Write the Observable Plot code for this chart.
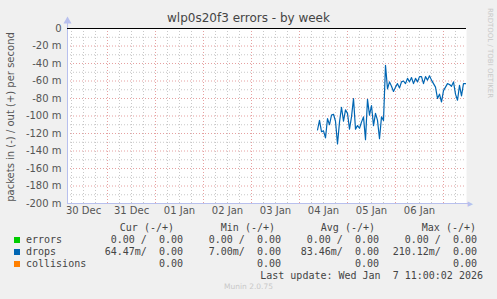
<!DOCTYPE html>
<html>
<head>
<meta charset="utf-8">
<script src="https://cdn.jsdelivr.net/npm/d3@7"></script>
<script src="https://cdn.jsdelivr.net/npm/@observablehq/plot@0.6"></script>
<style>
  html, body { margin: 0; padding: 0; background: #f0f0f0; }
  #wrap { position: relative; width: 497px; height: 299px; overflow: hidden; background: #f0f0f0; }
  #chart { position: absolute; left: 0; top: 0; }
  .abs { position: absolute; white-space: pre; }
  .title { left: 0; width: 497px; text-align: center; top: 12px; font: 12px "DejaVu Sans", sans-serif; line-height: 12px; color: #444; }
  .ylab { font: 10px "DejaVu Sans", sans-serif; color: #555; line-height: 10px; left: 11px; top: 117px; transform: translate(-50%, -50%) rotate(-90deg); }
  .rrd { font: 7px "DejaVu Sans", sans-serif; color: #c8c8c8; line-height: 7px; left: 489px; top: 53px; transform: translate(-50%, -50%) rotate(90deg); }
  .mono { font: 10px "DejaVu Sans Mono", monospace; color: #444; line-height: 12px; }
  .sq { position: absolute; width: 6px; height: 6px; }
  .munin { font: 7.5px "DejaVu Sans", sans-serif; color: #c8c8c8; left: 0; width: 497px; text-align: center; top: 283px; line-height: 8px; }
</style>
</head>
<body>
<div id="wrap">
  <div id="chart"></div>
</div>
<script>
// ---- data ----
const title = "wlp0s20f3 errors - by week";
const yLabel = "packets in (-) / out (+) per second";
const sideText = "RRDTOOL / TOBI OETIKER";
const footer = "Munin 2.0.75";
const lastUpdate = "Last update: Wed Jan  7 11:00:02 2026";

const dayLabels = ["30 Dec", "31 Dec", "01 Jan", "02 Jan", "03 Jan", "04 Jan", "05 Jan", "06 Jan"];
const yTicks = [0, -20, -40, -60, -80, -100, -120, -140, -160, -180, -200];

// drops (in), hourly samples starting 2026-01-04 09:00, in milli-packets/s (negative = in)
const dropsStart = Date.UTC(2026, 0, 4, 9);
const dropsValues = [
  -116, -105, -118, -117, -125, -103, -110, -99, -98, -106,
  -132, -107, -90, -106, -93, -97, -115, -101, -80, -115,
  -111, -114, -107, -101, -127, -81, -99, -88, -111, -97,
  -105, -126, -101, -105, -42, -69, -61, -66, -72, -67,
  -63, -68, -61, -60, -63, -57, -61, -56, -63, -57,
  -61, -55, -55, -63, -55, -59, -54, -59, -63, -67,
  -80, -75, -84, -71, -67, -63, -64, -66, -61, -75,
  -82, -65, -77, -63, -63
];

const legendNames = ["errors", "drops", "collisions"];
const legendColors = ["#00cc00", "#0066b3", "#ff8000"];
const legendHeaders = ["Cur (-/+)", "Min (-/+)", "Avg (-/+)", "Max (-/+)"];
const legendCur = ["0.00 /  0.00", "64.47m/  0.00", "0.00"];
const legendMin = ["0.00 /  0.00", "7.00m/  0.00", "0.00"];
const legendAvg = ["0.00 /  0.00", "83.46m/  0.00", "0.00"];
const legendMax = ["0.00 /  0.00", "210.12m/  0.00", "0.00"];

// ---- build ----
const HOUR = 3600 * 1000;
const drops = dropsValues.map((v, i) => ({ t: new Date(dropsStart + i * HOUR), v }));
const dayNoons = dayLabels.map((_, i) => new Date(Date.UTC(2025, 11, 30 + i, 12)));
const xStart = new Date(Date.UTC(2025, 11, 30, 4));
const xEnd = new Date(Date.UTC(2026, 0, 7, 11, 30));

const midnights = [];
const minorV = [];
for (let h = 6; ; h += 6) {
  const d = new Date(Date.UTC(2025, 11, 30, 0) + h * HOUR);
  if (d > xEnd) break;
  if (d.getUTCHours() === 0) midnights.push(d); else minorV.push(d);
}
const minorH = d3.range(-190, 0, 20);
const majorH = yTicks.filter(v => v !== 0 && v !== -200);

const minorColor = "#c8c8c8";
const majorColor = "#e6a0a0";
const axisColor = "#b8c0ee";

const chart = Plot.plot({
  width: 497,
  height: 220,
  marginLeft: 67,
  marginRight: 31,
  marginTop: 28,
  marginBottom: 17,
  style: { fontFamily: "DejaVu Sans", fontSize: "10px", color: "#555", background: "transparent", overflow: "visible" },
  x: { type: "time", domain: [xStart, xEnd] },
  y: { domain: [-200, 0] },
  marks: [
    Plot.frame({ fill: "white", stroke: "none" }),
    Plot.ruleY(minorH, { stroke: minorColor, strokeDasharray: "1,2" }),
    Plot.ruleX(minorV, { stroke: minorColor, strokeDasharray: "1,2" }),
    Plot.ruleY(majorH, { stroke: majorColor, strokeDasharray: "1,2" }),
    Plot.ruleX(midnights, { stroke: majorColor, strokeDasharray: "1,2" }),
    Plot.axisY({ ticks: yTicks, tickSize: 0, tickPadding: 6, tickFormat: d => d === 0 ? "0" : `${d} m`, label: null }),
    Plot.axisX({ ticks: dayNoons, tickSize: 0, tickPadding: 3, tickFormat: (d, i) => dayLabels[i], label: null }),
    Plot.ruleX([xStart], { y1: -200, y2: 8, stroke: axisColor }),
    Plot.ruleY([-200], { x1: xStart, x2: new Date(xEnd.getTime() + 2 * HOUR), stroke: axisColor }),
    Plot.dot([xStart], { x: d => d, y: 8.5, symbol: "triangle", r: 3, fill: axisColor, stroke: "none" }),
    Plot.text([-200], { x: new Date(xEnd.getTime() + 1.8 * HOUR), y: d => d, text: () => "▶", fill: axisColor, fontSize: 7 }),
    Plot.line(drops, { x: "t", y: "v", stroke: "#0066b3", strokeWidth: 1.2 }),
    Plot.ruleY([0], { stroke: "black", strokeWidth: 1 })
  ]
});
document.getElementById("chart").appendChild(chart);

const wrap = document.getElementById("wrap");
function add(cls, text, style) {
  const el = document.createElement("div");
  el.className = "abs " + cls;
  el.textContent = text;
  Object.assign(el.style, style || {});
  wrap.appendChild(el);
  return el;
}
add("title", title);
add("ylab", yLabel);
add("rrd", sideText);
add("munin", footer);

// legend
const headerEnds = [174, 275, 375, 476];
const valueEnds = [183, 281, 379, 477];
const rowTops = [234, 246, 258];
legendHeaders.forEach((h, i) => add("mono", h, { right: (497 - headerEnds[i]) + "px", top: "222px" }));
const cols = [legendCur, legendMin, legendAvg, legendMax];
legendNames.forEach((name, r) => {
  const sq = document.createElement("div");
  sq.className = "sq";
  Object.assign(sq.style, { left: "14px", top: (rowTops[r] + 3) + "px", background: legendColors[r] });
  wrap.appendChild(sq);
  add("mono", name, { left: "26px", top: rowTops[r] + "px" });
  cols.forEach((col, c) => add("mono", col[r], { right: (497 - valueEnds[c]) + "px", top: rowTops[r] + "px" }));
});
add("mono", lastUpdate, { right: (497 - 483) + "px", top: "270px" });
</script>
</body>
</html>
